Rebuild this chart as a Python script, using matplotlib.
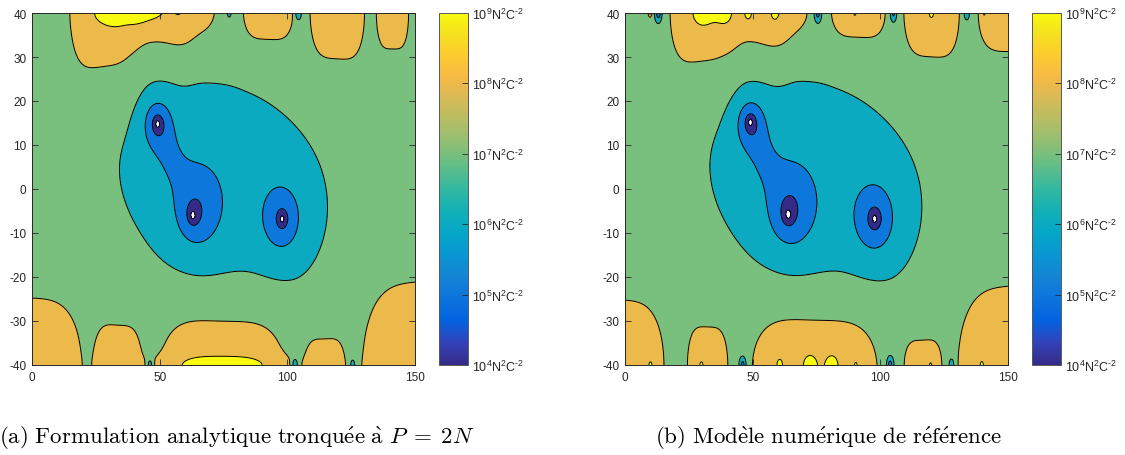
import numpy as np
import matplotlib
matplotlib.use("Agg")
import matplotlib.pyplot as plt
from matplotlib.colors import LinearSegmentedColormap, LogNorm
from matplotlib.cm import ScalarMappable

plt.rcParams['font.family'] = ['Liberation Sans', 'DejaVu Sans']
plt.rcParams['mathtext.fontset'] = 'custom'
plt.rcParams['mathtext.rm'] = 'Liberation Sans'
plt.rcParams['mathtext.it'] = 'Liberation Sans:italic'
plt.rcParams['mathtext.bf'] = 'Liberation Sans:bold'
plt.rcParams['axes.unicode_minus'] = False

# MATLAB parula, sampled every 4th entry of the 64-colour table
parula_pos = [0, 4, 8, 12, 16, 20, 24, 28, 32, 36, 40, 44, 48, 52, 56, 60, 63]
parula_rgb = [
    (0.2081, 0.1663, 0.5292), (0.1959, 0.2645, 0.7279), (0.0117, 0.3875, 0.8820),
    (0.0498, 0.4586, 0.8641), (0.0793, 0.5200, 0.8312), (0.0343, 0.5966, 0.8199),
    (0.0228, 0.6535, 0.7768), (0.0843, 0.6928, 0.7062), (0.2178, 0.7250, 0.6193),
    (0.3953, 0.7459, 0.5244), (0.5709, 0.7485, 0.4494), (0.7184, 0.7411, 0.3905),
    (0.8507, 0.7299, 0.3360), (0.9739, 0.7314, 0.2666), (0.9880, 0.8066, 0.1794),
    (0.9589, 0.8949, 0.1132), (0.9763, 0.9831, 0.0538)]
parula = LinearSegmentedColormap.from_list(
    "parula", [(p / 63.0, c) for p, c in zip(parula_pos, parula_rgb)])

# decades of the field (log10 of N^2 C^-2)
levels = [4, 5, 6, 7, 8, 9]
cbar_exp = [4, 5, 6, 7, 8, 9]
background = 7.45

# low-field envelope: centre x, centre y, semi-axes, tilt in degrees
envelope = (74.0, 1.5, 46.5, 25.9, -8.0)
envelope_depth_a = 0.90
envelope_depth_b = 0.93

# gaussian wells around the zeros
well_x = [49.2, 54.0, 65.0, 98.0]
well_y = [14.8, 7.0, -4.0, -6.8]
well_sx = [6.0, 7.0, 10.0, 9.0]
well_sy = [6.0, 7.0, 10.0, 9.0]
well_depth_a = [1.40, 0.60, 1.25, 1.15]
well_depth_b = [1.40, 0.60, 1.30, 1.25]

# zeros of the field and their core radius
hole_x_a = [49.2, 63.0, 98.0]
hole_y_a = [14.8, -6.0, -6.8]
hole_x_b = [49.1, 63.9, 97.8]
hole_y_b = [15.2, -5.8, -6.8]
hole_core = [3.5, 4.6, 4.6]

# edge contributions: (x, amplitude, x-width, decay from the edge)
# lobes are flat-topped, peaks and dips are plain gaussians
lobes_top_a = [(28.0, 1.35, 13.7, 15.5), (51.0, 1.10, 11.7, 9.5),
               (92.5, 1.30, 10.4, 7.6), (119.5, 1.50, 10.8, 11.2), (141.2, 1.45, 6.35, 8.45)]
peaks_top_a = [(33.0, 0.55, 10.0, 4.5), (46.0, 0.55, 9.0, 4.0), (65.0, 1.00, 10.0, 7.5)]
dips_top_a = [(77.2, -1.3, 0.8, 1.0), (104.3, -1.6, 1.2, 1.6)]
lobes_bot_a = [(-3.0, 1.40, 22.9, 16.0), (33.7, 1.30, 9.35, 10.5), (74.7, 1.35, 25.5, 13.5),
               (114.6, 1.20, 8.1, 7.6), (153.0, 1.45, 24.2, 20.0)]
peaks_bot_a = [(74.7, 0.60, 30.0, 2.6)]
dips_bot_a = [(46.2, -1.4, 1.1, 1.5), (103.0, -1.6, 1.2, 1.6), (125.6, -1.4, 1.0, 1.4)]

lobes_top_b = [(30.0, 1.35, 13.0, 14.0), (52.0, 1.10, 11.7, 10.0),
               (91.5, 1.20, 11.5, 7.5), (120.0, 1.45, 11.1, 10.9), (150.5, 1.45, 12.3, 9.0)]
peaks_top_b = [(30.5, 0.50, 5.0, 4.5), (39.0, 0.50, 4.5, 4.5), (48.2, 0.80, 1.8, 2.0),
               (58.6, 0.60, 0.9, 1.0), (20.5, 0.50, 0.9, 1.0), (9.8, 1.80, 0.7, 0.9),
               (90.0, 0.60, 0.8, 1.0), (120.0, 0.40, 0.8, 1.0), (140.6, 0.75, 0.8, 1.0),
               (65.0, 1.00, 10.0, 7.5)]
dips_top_b = [(13.1, -2.0, 1.3, 2.0), (75.5, -2.0, 1.5, 2.2), (105.1, -1.8, 1.3, 2.0),
              (133.8, -1.6, 1.1, 1.6)]
lobes_bot_b = [(-4.0, 1.40, 19.7, 15.5), (32.3, 1.30, 8.15, 10.0), (74.5, 1.35, 26.0, 14.0),
               (116.5, 1.20, 7.7, 7.2), (153.0, 1.45, 23.2, 19.0)]
peaks_bot_b = [(72.5, 0.50, 3.5, 3.5), (81.0, 0.50, 3.5, 3.5), (60.5, 0.60, 1.6, 2.0),
               (90.5, 0.55, 1.3, 1.6), (10.0, 0.80, 0.8, 1.0), (29.9, 0.50, 0.8, 1.0),
               (119.7, 0.55, 0.8, 1.0), (139.7, 0.50, 0.8, 1.0)]
dips_bot_b = [(46.1, -2.0, 1.4, 2.0), (103.8, -2.0, 1.4, 2.0), (127.9, -1.6, 1.1, 1.6)]

captions = [r'$\mathrm{(a)\ Formulation\ analytique\ tronqu\acute{e}e\ \grave{a}}\ P\;=\;2N$',
            r'$\mathrm{(b)\ Mod\grave{e}le\ num\acute{e}rique\ de\ r\acute{e}f\acute{e}rence}$']
hyphen = '\u2010'
cbar_labels = ['$10^{%d}\\mathrm{N}^{2}\\mathrm{C}^{%s2}$' % (e, hyphen) for e in cbar_exp]

x = np.linspace(0, 150, 751)
y = np.linspace(-40, 40, 401)
X, Y = np.meshgrid(x, y)


def edge_terms(items, y_edge, px):
    out = np.zeros_like(X)
    for xc, amp, w, d in items:
        out += amp * np.exp(-np.abs((X - xc) / w) ** px - ((Y - y_edge) / d) ** 2)
    return out


def field(env_depth, well_depth, hx, hy, top, bot):
    xc, yc, sa, sb, tilt = envelope
    t = np.radians(tilt)
    u = ((X - xc) * np.cos(t) + (Y - yc) * np.sin(t)) / sa
    v = (-(X - xc) * np.sin(t) + (Y - yc) * np.cos(t)) / sb
    L = background - env_depth * np.exp(-(u ** 2 + v ** 2))
    for wx, wy, sx, sy, dep in zip(well_x, well_y, well_sx, well_sy, well_depth):
        L -= dep * np.exp(-((X - wx) / sx) ** 2 - ((Y - wy) / sy) ** 2)
    for px_, py_, c in zip(hx, hy, hole_core):
        r2 = (X - px_) ** 2 + (Y - py_) ** 2 + 1e-6
        L += np.log10(r2 / (r2 + c ** 2))
    lobes_t, peaks_t, dips_t = top
    lobes_b, peaks_b, dips_b = bot
    L += edge_terms(lobes_t, 40.0, 4) + edge_terms(peaks_t + dips_t, 40.0, 2)
    L += edge_terms(lobes_b, -40.0, 4) + edge_terms(peaks_b + dips_b, -40.0, 2)
    return L


field_a = field(envelope_depth_a, well_depth_a, hole_x_a, hole_y_a,
                (lobes_top_a, peaks_top_a, dips_top_a), (lobes_bot_a, peaks_bot_a, dips_bot_a))
field_b = field(envelope_depth_b, well_depth_b, hole_x_b, hole_y_b,
                (lobes_top_b, peaks_top_b, dips_top_b), (lobes_bot_b, peaks_bot_b, dips_bot_b))

band_colors = [parula((e - 4) / 5.0) for e in levels]
ink = (0.15, 0.15, 0.15)

fig = plt.figure(figsize=(11.25, 4.56), dpi=100)
W, H = 1125.0, 456.0
panels = [(field_a, 32, 439, captions[0], 237), (field_b, 625, 1032, captions[1], 828)]

for L, ax_left, cb_left, cap, cap_x in panels:
    ax = fig.add_axes([ax_left / W, 90 / H, 383 / W, 352 / H])
    ax.contourf(X, Y, L, levels=levels + [99], colors=band_colors)
    ax.contour(X, Y, L, levels=levels, colors='k', linewidths=0.7)
    ax.set_xlim(0, 150)
    ax.set_ylim(-40, 40)
    ax.set_xticks([0, 50, 100, 150])
    ax.set_yticks(range(-40, 41, 10))
    ax.tick_params(direction='in', length=4, width=0.6, top=True, right=True,
                   colors=ink, labelsize=8.5, pad=4)
    for s in ax.spines.values():
        s.set_color(ink)
        s.set_linewidth(0.7)

    cax = fig.add_axes([cb_left / W, 90 / H, 29 / W, 352 / H])
    sm = ScalarMappable(norm=LogNorm(1e4, 1e9), cmap=parula)
    cb = fig.colorbar(sm, cax=cax, ticks=[10.0 ** e for e in cbar_exp])
    cb.set_ticklabels(cbar_labels)
    cb.ax.minorticks_off()
    cb.ax.tick_params(direction='in', length=4, width=0.6, colors=ink, labelsize=9, pad=3)
    cb.outline.set_edgecolor((0.35, 0.35, 0.35))
    cb.outline.set_linewidth(0.7)

    fig.text(cap_x / W, 18 / H, cap, ha='center', va='center', fontsize=16.5,
             math_fontfamily='cm', color='k')

fig.savefig("out.png", dpi=100)
